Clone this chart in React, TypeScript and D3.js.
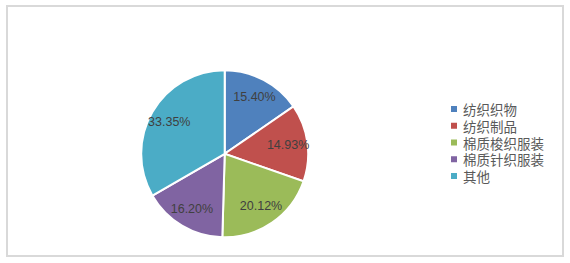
import React from "react";
import * as d3 from "d3";

const categories = ["纺织织物", "纺织制品", "棉质梭织服装", "棉质针织服装", "其他"];
const values = [15.4, 14.93, 20.12, 16.2, 33.35];
const colors = ["#4F81BD", "#C0504D", "#9BBB59", "#8064A2", "#4BACC6"];

const W = 570;
const H = 263;

export default function App() {
  const cx = 224.7;
  const cy = 153.8;
  const r = 83.5;
  const pie = d3.pie<number>().sort(null).value((d) => d);
  const arcs = pie(values);
  const arc = d3.arc<d3.PieArcDatum<number>>().innerRadius(0).outerRadius(r);
  const labelArc = d3.arc<d3.PieArcDatum<number>>().innerRadius(64).outerRadius(64);
  const legendY = d3.scalePoint<string>().domain(categories).range([109, 176]);

  return (
    <svg width={W} height={H} style={{ position: "absolute", left: 0, top: 0 }}>
      <rect x={0} y={0} width={W} height={H} fill="#fff" />
      <rect x={7} y={6} width={556} height={250} fill="#fff" stroke="#D9D9D9" strokeWidth={2} />
      <g transform={`translate(${cx},${cy})`}>
        {arcs.map((a, i) => (
          <path key={i} d={arc(a) || ""} fill={colors[i]} stroke="#fff" strokeWidth={2} />
        ))}
        {arcs.map((a, i) => {
          const [x, y] = labelArc.centroid(a);
          return (
            <text
              key={"l" + i}
              x={x}
              y={y}
              textAnchor="middle"
              dominantBaseline="central"
              fontFamily="'Liberation Sans', Arial, sans-serif"
              fontSize={12.5}
              fill="#404040"
            >
              {values[i].toFixed(2)}%
            </text>
          );
        })}
      </g>
      <g>
        {categories.map((c, i) => (
          <g key={c} transform={`translate(451,${legendY(c)})`}>
            <rect x={0} y={-3} width={6} height={6} fill={colors[i]} />
            <text
              x={12}
              y={0}
              dominantBaseline="central"
              fontFamily="'Noto Sans CJK SC', sans-serif"
              fontSize={13.5}
              fill="#595959"
            >
              {c}
            </text>
          </g>
        ))}
      </g>
    </svg>
  );
}
